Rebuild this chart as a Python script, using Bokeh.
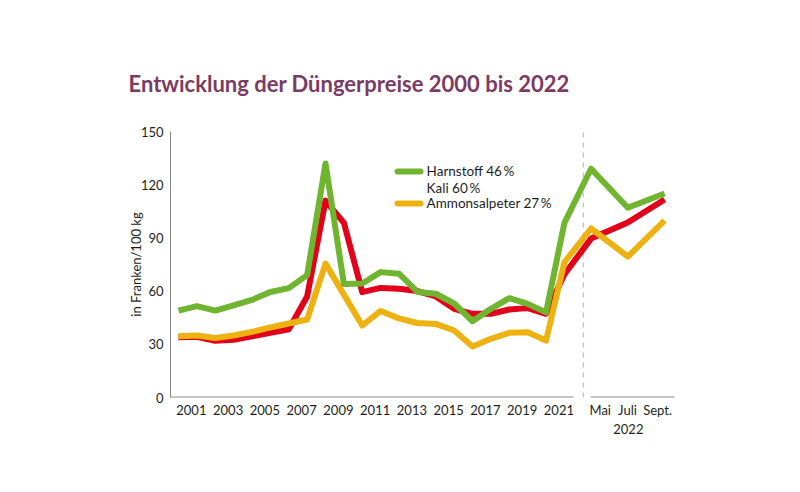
from bokeh.plotting import figure
from bokeh.models import Range1d, FixedTicker, LinearAxis, Title
from bokeh.core.properties import value
from bokeh.embed import file_html
from bokeh.resources import INLINE

# ---- data ----
years = list(range(2000, 2022))
months = ["Mai", "Juli", "Sept."]
month_x = [2022.45, 2024.45, 2026.45]

harnstoff = [49, 51.5, 49, 52, 55, 59.5, 61.7, 69, 132, 64, 64.3, 70.7, 69.8, 59.5,
             58.5, 53, 43, 50, 56, 52.8, 48, 98.5]
kali = [34, 34.2, 32, 32.5, 34.5, 36.5, 38.5, 57, 111, 98.5, 59.4, 61.8, 61.3, 60,
        57, 50, 47.2, 47.2, 49.6, 50.4, 47.2, 69.5]
ammon = [34.5, 35, 33.5, 35, 37, 39.5, 41.7, 44, 75.5, 58, 40.6, 48.8, 44.6, 42,
         41.5, 37.8, 28.8, 33.1, 36.5, 36.8, 32.1, 76.3]
harnstoff_2022 = [129, 107, 115]
kali_2022 = [89.6, 98.7, 111.7]
ammon_2022 = [95.3, 79.5, 99.8]

year_labels = [str(y) for y in range(2001, 2022, 2)]
y_ticks = [0, 30, 60, 90, 120, 150]

series_names = ["Harnstoff 46\u2009%", "Kali 60\u2009%", "Ammonsalpeter 27\u2009%"]

GREEN = "#6fb52f"
RED = "#e3001b"
YELLOW = "#edb20f"
AXIS = "#8a8a8a"
TXT = "#1e1e1e"
FONT = "Lato"

p = figure(width=784, height=476, output_backend="svg", toolbar_location=None,
           x_range=Range1d(1999.565, 2026.99), y_range=Range1d(0, 150),
           min_border_left=170, min_border_right=110, min_border_top=131,
           min_border_bottom=79)
p.outline_line_color = None
p.xgrid.grid_line_color = None
p.ygrid.grid_line_color = None
p.background_fill_color = "white"
p.border_fill_color = "white"

# title
t = Title(text="Entwicklung der Düngerpreise 2000 bis 2022", align="left",
          text_font=FONT, text_font_size="22px", text_font_style="bold",
          text_color="#7b3b64", offset=-42, standoff=70)
p.add_layout(t, "above")

# y axis
p.yaxis.ticker = FixedTicker(ticks=y_ticks)
p.yaxis.axis_line_color = AXIS
p.yaxis.major_tick_line_color = None
p.yaxis.minor_tick_line_color = None
p.yaxis.major_tick_out = 0
p.yaxis.major_tick_in = 0
p.yaxis.major_label_standoff = 7
p.yaxis.major_label_text_font = FONT
p.yaxis.major_label_text_font_size = "13px"
p.yaxis.major_label_text_color = TXT
p.yaxis.axis_label = "in Franken/100 kg"
p.yaxis.axis_label_text_font = FONT
p.yaxis.axis_label_text_font_style = "normal"
p.yaxis.axis_label_text_font_size = "13px"
p.yaxis.axis_label_text_color = TXT
p.yaxis.axis_label_standoff = -6

# x axis
tick_pos = [int(l) - 0.3 for l in year_labels] + [2022.95, 2024.43, 2026.07]
overrides = {}
for tp, l in zip(tick_pos, year_labels + months):
    overrides[tp] = l
p.xaxis.ticker = FixedTicker(ticks=tick_pos)
p.xaxis.major_label_overrides = overrides
p.xaxis.axis_line_color = None
p.xaxis.major_tick_line_color = None
p.xaxis.minor_tick_line_color = None
p.xaxis.major_tick_out = 0
p.xaxis.major_tick_in = 0
p.xaxis.major_label_standoff = 4
p.xaxis.major_label_text_font = FONT
p.xaxis.major_label_text_font_size = "13px"
p.xaxis.major_label_text_color = TXT

# second row: year of the monthly values
ax2 = LinearAxis(ticker=FixedTicker(ticks=[2024.48]),
                 major_label_overrides={2024.48: "2022"})
ax2.axis_line_color = None
ax2.major_tick_line_color = None
ax2.minor_tick_line_color = None
ax2.major_tick_out = 0
ax2.major_tick_in = 0
ax2.major_label_standoff = 3
ax2.major_label_text_font = FONT
ax2.major_label_text_font_size = "13px"
ax2.major_label_text_color = TXT
p.add_layout(ax2, "below")

# split x axis line
p.segment(x0=[1999.565, 2022.42], y0=[0, 0], x1=[2021.5, 2027.0], y1=[0, 0],
          line_color=AXIS, line_width=2)
# divider
p.segment(x0=[2022.03], y0=[0], x1=[2022.03], y1=[150], line_color="#c8c8c8",
          line_width=1.5, line_dash="5 5")

xs = years + month_x
for vals, vals22, col in [(kali, kali_2022, RED), (ammon, ammon_2022, YELLOW),
                          (harnstoff, harnstoff_2022, GREEN)]:
    p.line(xs, vals + vals22, line_color=col, line_width=6, line_join="round")

# legend
p.segment(x0=[2011.92, 2011.92], y0=[127.5, 109.4], x1=[2013.17, 2013.17], y1=[127.5, 109.4],
          line_color=[GREEN, YELLOW], line_width=6, line_cap="round")
p.text(x=[2013.5] * 3, y=[127.5, 118.4, 109.4], text=series_names,
       text_font=value(FONT), text_font_size="13.5px", text_color=TXT,
       text_baseline="middle", text_align="left")

open("out.html", "w").write(file_html(p, INLINE))
